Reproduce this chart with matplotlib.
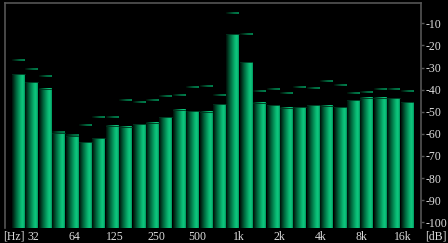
import matplotlib
matplotlib.use("Agg")
import matplotlib.pyplot as plt
import numpy as np
from matplotlib.colors import LinearSegmentedColormap

# 1/3 octave analyser, current level and peak hold per band (dB)
levels = [-33.1, -36.6, -39.7, -59.5, -61.0, -63.7, -61.9, -56.4, -56.8, -55.7,
          -54.9, -52.5, -49.2, -49.7, -50.0, -46.5, -15.0, -27.5, -45.9, -47.1,
          -48.2, -47.9, -47.0, -47.4, -47.9, -44.7, -43.7, -43.7, -43.9, -45.6]
peaks = [-26.6, -30.5, -33.8, -59.2, -60.6, -56.2, -52.3, -52.4, -44.8, -45.5,
         -44.7, -43.0, -42.7, -39.0, -38.5, -42.6, -5.2, -14.8, -40.5, -39.6,
         -41.7, -39.0, -39.4, -36.0, -37.8, -41.7, -41.1, -39.9, -39.6, -40.8]
freq_labels = ["32", "64", "125", "250", "500", "1k", "2k", "4k", "8k", "16k"]
db_ticks = [-10, -20, -30, -40, -50, -60, -70, -80, -90, -100]

floor = -103.0
grey = "#555555"
txt = "#dcdcdc"

bar_cmap = LinearSegmentedColormap.from_list("bar", [
    (0.0, (0.0, 0.06, 0.03)),
    (0.35, (0.0, 0.42, 0.25)),
    (0.72, (0.04, 0.74, 0.46)),
    (0.86, (0.06, 0.78, 0.50)),
    (1.0, (0.0, 0.58, 0.36))])
peak_cmap = LinearSegmentedColormap.from_list("peak", [
    (0.0, (0.0, 0.05, 0.02)),
    (0.6, (0.0, 0.40, 0.24)),
    (1.0, (0.0, 0.50, 0.30))])

fig = plt.figure(figsize=(4.48, 2.43), dpi=100, facecolor="black")
ax = fig.add_axes([5 / 448, 15 / 243, 416 / 448, 225 / 243])
ax.set_facecolor("black")

x = np.arange(len(levels))
lv = np.array(levels)
pk = np.array(peaks)

bars = ax.bar(x, lv - floor, bottom=floor, width=0.93, color="none", linewidth=0)
pbars = ax.bar(x, 0.8, bottom=pk - 0.4, width=0.93, color="none", linewidth=0)

grad = np.linspace(0, 1, 64).reshape(1, -1)
for p in bars:
    bx, by = p.get_x(), p.get_y()
    ax.imshow(grad, cmap=bar_cmap, extent=[bx, bx + p.get_width(), by, by + p.get_height()],
              aspect="auto", interpolation="bilinear", zorder=2)
    # thin darker rim on top of the bar
    ax.plot([bx, bx + p.get_width()], [by + p.get_height()] * 2, color="#00301c", lw=0.6, zorder=3)
for p in pbars:
    bx, by = p.get_x(), p.get_y()
    ax.imshow(grad, cmap=peak_cmap, extent=[bx, bx + p.get_width(), by, by + p.get_height()],
              aspect="auto", interpolation="bilinear", zorder=2)

ax.set_xlim(-0.99, 30.05)
ax.set_ylim(-102.6, -0.8)

# axis frame
for side in ["top", "left", "right"]:
    ax.spines[side].set_color(grey)
    ax.spines[side].set_linewidth(1.2)
ax.spines["bottom"].set_visible(False)

ax.yaxis.tick_right()
ax.set_yticks(db_ticks)
ax.set_yticklabels([str(v) for v in db_ticks], family="Liberation Serif", fontsize=8.5)
ax.tick_params(axis="y", colors=grey, labelcolor=txt, length=2.5, width=1, pad=0.5)

xpos = [1.1 + 3.067 * k for k in range(len(freq_labels))]
ax.set_xticks(xpos)
ax.set_xticklabels(freq_labels, family="Liberation Serif", fontsize=8.5)
ax.tick_params(axis="x", length=0, labelcolor=txt, pad=2)

fig.text(3 / 448, 1 - 236 / 243, "[Hz]", color=txt, family="Liberation Serif",
         fontsize=8.5, ha="left", va="center")
fig.text(425 / 448, 1 - 236 / 243, "[dB]", color=txt, family="Liberation Serif",
         fontsize=8.5, ha="left", va="center")

fig.savefig("out.png", dpi=100, facecolor="black")
